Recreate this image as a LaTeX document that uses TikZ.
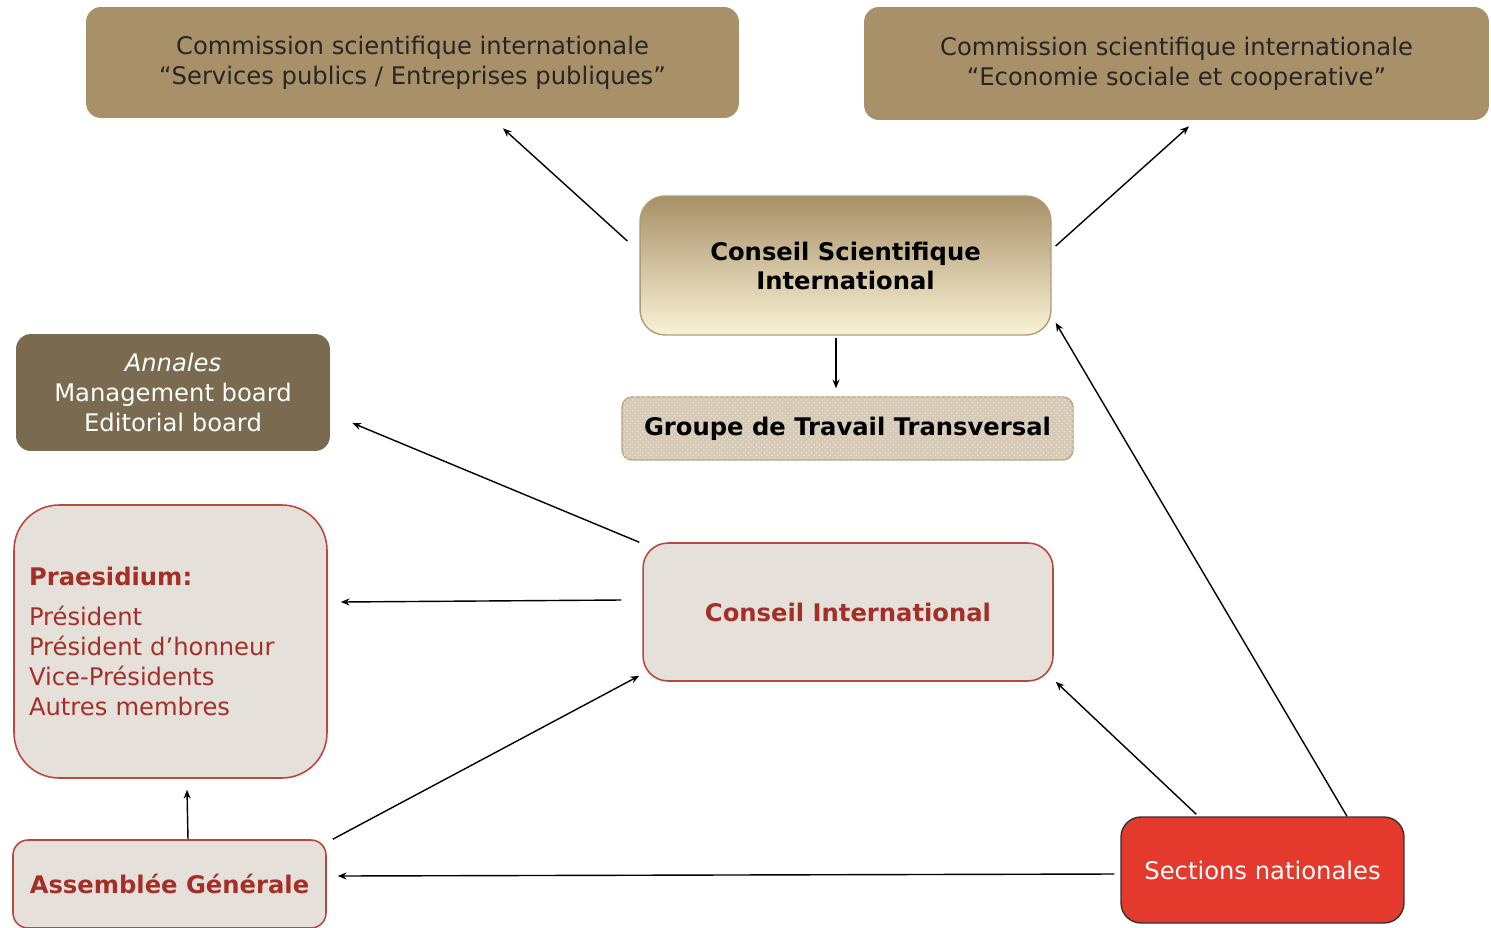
\documentclass[tikz,border=0pt]{standalone}
\usepackage{fontspec}
\setmainfont{DejaVu Sans}
\usetikzlibrary{positioning}
\usetikzlibrary{arrows.meta}
\usetikzlibrary{patterns}

\definecolor{tanbox}{RGB}{168,144,104}
\definecolor{creambox}{RGB}{250,243,214}
\definecolor{darktan}{RGB}{122,106,79}
\definecolor{greybox}{RGB}{229,225,218}
\definecolor{redline}{RGB}{185,72,62}
\definecolor{redtext}{RGB}{163,48,40}
\definecolor{redbox}{RGB}{228,58,45}
\definecolor{gttfill}{RGB}{214,201,181}

\tikzset{
	box/.style={rounded corners=0.3cm, align=center, inner sep=0pt,
			font=\fontsize{13.8pt}{17pt}\selectfont},
	commission/.style={box, fill=tanbox, text=black!85},
	redbox/.style={box, fill=greybox, draw=redline, line width=0.9pt, text=redtext},
	arr/.style={-{Stealth[length=5pt,width=4pt]}, line width=0.8pt}
}

\begin{document}
\begin{tikzpicture}[x=0.02cm, y=-0.02cm]
	\clip (0,0) rectangle (1491,927);
	\fill[white] (0,0) rectangle (1491,927);

	% top row
	\node[commission, minimum width=13.06cm, minimum height=2.22cm] (comA) at (412.5,62.5)
		{Commission scientifique internationale\\``Services publics / Entreprises publiques''};
	\node[commission, minimum width=12.5cm, minimum height=2.26cm] (comB) at (1176.5,63.5)
		{Commission scientifique internationale\\``Economie sociale et cooperative''};

	% centre column
	\node[box, rounded corners=0.5cm, draw=tanbox!90, line width=0.8pt, top color=tanbox, bottom color=creambox,
		minimum width=8.22cm, minimum height=2.78cm, font=\fontsize{13.8pt}{16.5pt}\selectfont\bfseries] (csi) at (845.5,265.5)
		{Conseil Scientifique\\International};
	\node[box, rounded corners=0.2cm, fill=gttfill, draw=tanbox!80, line width=0.8pt,
		postaction={pattern=crosshatch dots, pattern color=white!45!gttfill},
		minimum width=9.02cm, minimum height=1.26cm, font=\fontsize{13.8pt}{17pt}\selectfont\bfseries] (gtt) at (847.5,428.5)
		{Groupe de Travail Transversal};
	\node[redbox, rounded corners=0.5cm, minimum width=8.2cm, minimum height=2.76cm,
		font=\fontsize{13.8pt}{17pt}\selectfont\bfseries] (ci) at (848,612)
		{Conseil International};

	% left column
	\node[box, fill=darktan, text=white, minimum width=6.28cm, minimum height=2.34cm] (annales) at (173,392.5)
		{\textit{Annales}\\Management board\\Editorial board};
	\node[redbox, rounded corners=0.9cm, minimum width=6.26cm, minimum height=5.46cm,
		text width=5.66cm, align=left, inner xsep=0.3cm] (praes) at (170.5,641.5)
		{\textbf{Praesidium:}\\[6pt]Président\\Président d’honneur\\Vice-Présidents\\Autres membres\\[10pt]};
	\node[redbox, minimum width=6.26cm, minimum height=1.76cm,
		font=\fontsize{13.8pt}{17pt}\selectfont\bfseries] (ag) at (169.5,884)
		{Assemblée Générale};

	% bottom right
	\node[box, rounded corners=0.4cm, fill=redbox, draw=black!80, line width=0.8pt, text=white,
		minimum width=5.66cm, minimum height=2.12cm] (sn) at (1262.5,870)
		{Sections nationales};

	% connectors
	\draw[arr] ([shift={(-12,-24.5)}]csi.west) -- ([shift={(90.5,10)}]comA.south);
	\draw[arr] ([shift={(4,-19.5)}]csi.east) -- ([shift={(12.5,6)}]comB.south);
	\draw[arr] ([shift={(-9.5,2)}]csi.south) -- ([shift={(-11.5,-8)}]gtt.north);
	\draw[arr] ([shift={(-3,0)}]ci.north west) -- ([shift={(22,30.5)}]annales.east);
	\draw[arr] ([shift={(-21,-12)}]ci.west) -- ([shift={(13,-39.5)}]praes.east);
	\draw[arr] ([shift={(6,0)}]ag.north east) -- ([shift={(-3,-6)}]ci.south west);
	\draw[arr] ([shift={(18.5,0)}]ag.north) -- ([shift={(16.5,11)}]praes.south);
	\draw[arr] ([shift={(76,-2)}]sn.north west) -- ([shift={(2,0)}]ci.south east);
	\draw[arr] ([shift={(84.5,0)}]sn.north) -- ([shift={(4,-13)}]csi.south east);
	\draw[arr] ([shift={(-6,4)}]sn.west) -- ([shift={(11,-8)}]ag.east);
\end{tikzpicture}
\end{document}
